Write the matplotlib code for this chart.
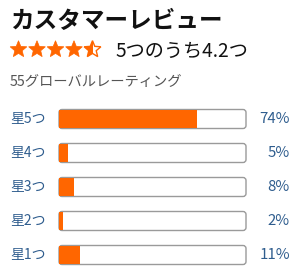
import matplotlib
matplotlib.use("Agg")
import matplotlib.pyplot as plt
from matplotlib.patches import FancyBboxPatch, Polygon, Rectangle
import numpy as np

plt.rcParams['font.family'] = ['Noto Sans CJK JP', 'DejaVu Sans']

title = "カスタマーレビュー"
rating = 4.2
rating_text = "5つのうち4.2つ"
count_text = "55グローバルレーティング"
labels = ["星5つ", "星4つ", "星3つ", "星2つ", "星1つ"]
percents = [74, 5, 8, 2, 11]

orange = "#ff6600"
blue = "#2f5d8e"

fig = plt.figure(figsize=(3.03, 2.75), dpi=100)
ax = fig.add_axes([0, 0, 1, 1])
ax.set_xlim(0, 303)
ax.set_ylim(275, 0)
ax.axis("off")

ax.text(10, 21, title, fontsize=17, fontweight="bold", color="#111111", va="center")


def star(cx, cy, r_out=8.8, r_in=3.9):
    ang = np.pi / 2 + np.arange(10) * np.pi / 5
    rad = np.where(np.arange(10) % 2 == 0, r_out, r_in)
    return np.column_stack([cx + rad * np.cos(ang), cy - rad * np.sin(ang)])


# stars: full ones filled, the last one half filled (left side)
star_x = [18.5, 37, 55.5, 74, 92.5]
for i, cx in enumerate(star_x):
    pts = star(cx, 49.5)
    fill = min(max(rating - i, 0), 1)
    if fill >= 1:
        ax.add_patch(Polygon(pts, closed=True, facecolor=orange, edgecolor=orange, lw=0.5))
    else:
        ax.add_patch(Polygon(pts, closed=True, facecolor="none", edgecolor=orange, lw=1.0))
        if fill > 0:
            half = Polygon(pts, closed=True, facecolor=orange, edgecolor="none")
            ax.add_patch(half)
            clip = Rectangle((cx - 10, 38), 10, 24, transform=ax.transData)
            half.set_clip_path(clip)

ax.text(115, 51, rating_text, fontsize=13.8, color="#111111", va="center")
ax.text(10, 82, count_text, fontsize=10.3, color="#555555", va="center")

bar_x0, bar_w, bar_h = 59, 187, 19
rows = np.arange(len(labels)) * 34 + 119
for y, lab, p in zip(rows, labels, percents):
    ax.add_patch(FancyBboxPatch((bar_x0, y - bar_h / 2), bar_w, bar_h,
                                boxstyle="round,pad=0,rounding_size=3",
                                facecolor="white", edgecolor="#9a9a9a", lw=1.0, zorder=1))
    ax.text(10, y, lab, fontsize=10, color=blue, va="center", ha="left")
    ax.text(290, y, f"{p}%", fontsize=10.8, color=blue, va="center", ha="right")

ax.barh(rows, [bar_w * p / 100 for p in percents], left=bar_x0, height=bar_h - 1,
        color=orange, zorder=2)

fig.savefig("out.png", dpi=100)
